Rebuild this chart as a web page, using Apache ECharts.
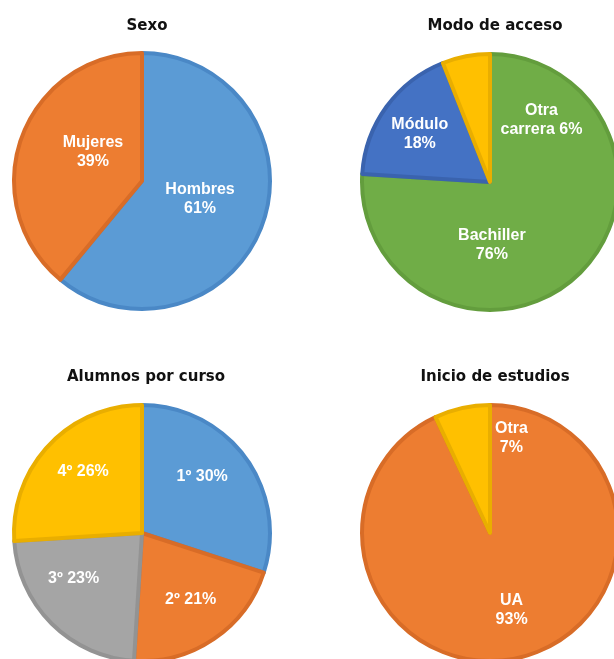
<!DOCTYPE html>
<html>
<head>
<meta charset="utf-8">
<script src="https://cdn.jsdelivr.net/npm/echarts@6/dist/echarts.min.js"></script>
<style>
  html, body { margin: 0; padding: 0; background: #fff; }
  #container { width: 614px; height: 659px; }
</style>
</head>
<body>
<div id="container"></div>
<script>
// data (percentages)
const sexoNames = ['Hombres', 'Mujeres']
const sexoValues = [61, 39]

const accesoNames = ['Bachiller', 'Módulo', 'Otra carrera']
const accesoValues = [76, 18, 6]

const cursoNames = ['1º', '2º', '3º', '4º']
const cursoValues = [30, 21, 23, 26]

const inicioNames = ['UA', 'Otra']
const inicioValues = [93, 7]

const titles = ['Sexo', 'Modo de acceso', 'Alumnos por curso', 'Inicio de estudios']

// colours: fill / darker border
const C = {
  blue: ['#5B9BD5', '#4A88C6'],
  orange: ['#ED7D31', '#D86C27'],
  gray: ['#A5A5A5', '#939393'],
  yellow: ['#FFC000', '#E9AE00'],
  navy: ['#4472C4', '#3A63AE'],
  green: ['#70AD47', '#639D3D']
}

function makeData(names, values, colors, formats) {
  return names.map((n, i) => ({
    name: n,
    value: values[i],
    itemStyle: { color: colors[i][0], borderColor: colors[i][1] },
    label: formats ? { formatter: formats[i] } : undefined
  }))
}

function pieSeries(center, data, formatter, shifts) {
  return {
    type: 'pie',
    center: center,
    radius: 128,
    startAngle: 90,
    clockwise: true,
    silent: true,
    itemStyle: { borderWidth: 4 },
    label: {
      show: true,
      position: 'inside',
      formatter: formatter,
      color: '#fff',
      fontFamily: 'Liberation Sans',
      fontWeight: 'bold',
      fontSize: 16,
      lineHeight: 19
    },
    labelLine: { show: false },
    labelLayout: function (p) {
      const s = shifts[p.dataIndex]
      return { dx: s[0], dy: s[1] }
    },
    data: data
  }
}

let myChart = echarts.init(document.getElementById('container'), null, { renderer: 'canvas' })

const titleStyle = {
  fontFamily: 'DejaVu Sans',
  fontWeight: 'bold',
  fontSize: 15,
  color: '#111'
}

let option = {
  backgroundColor: '#fff',
  animation: false,
  title: [
    { text: titles[0], left: 142, top: 14, textAlign: 'center', textStyle: titleStyle },
    { text: titles[1], left: 490, top: 14, textAlign: 'center', textStyle: titleStyle },
    { text: titles[2], left: 141, top: 365, textAlign: 'center', textStyle: titleStyle },
    { text: titles[3], left: 490, top: 365, textAlign: 'center', textStyle: titleStyle }
  ],
  series: [
    pieSeries([142, 181],
      makeData(sexoNames, sexoValues, [C.blue, C.orange]),
      '{b}\n{c}%',
      [[-5, -5], [14, -6]]),
    pieSeries([490, 182],
      makeData(accesoNames, accesoValues, [C.green, C.navy, C.yellow],
        ['{b}\n{c}%', '{b}\n{c}%', 'Otra\ncarrera {c}%']),
      '{b}\n{c}%',
      [[-44, 14], [-16, -9], [64, 4]]),
    pieSeries([142, 533],
      makeData(cursoNames, cursoValues, [C.blue, C.orange, C.gray, C.yellow]),
      '{b} {c}%',
      [[6, -17], [11, 11], [-21, -2], [-10, -16]]),
    pieSeries([490, 533],
      makeData(inicioNames, inicioValues, [C.orange, C.yellow]),
      '{b}\n{c}%',
      [[7, 12], [36, -30]])
  ]
}
myChart.setOption(option)
</script>
</body>
</html>
